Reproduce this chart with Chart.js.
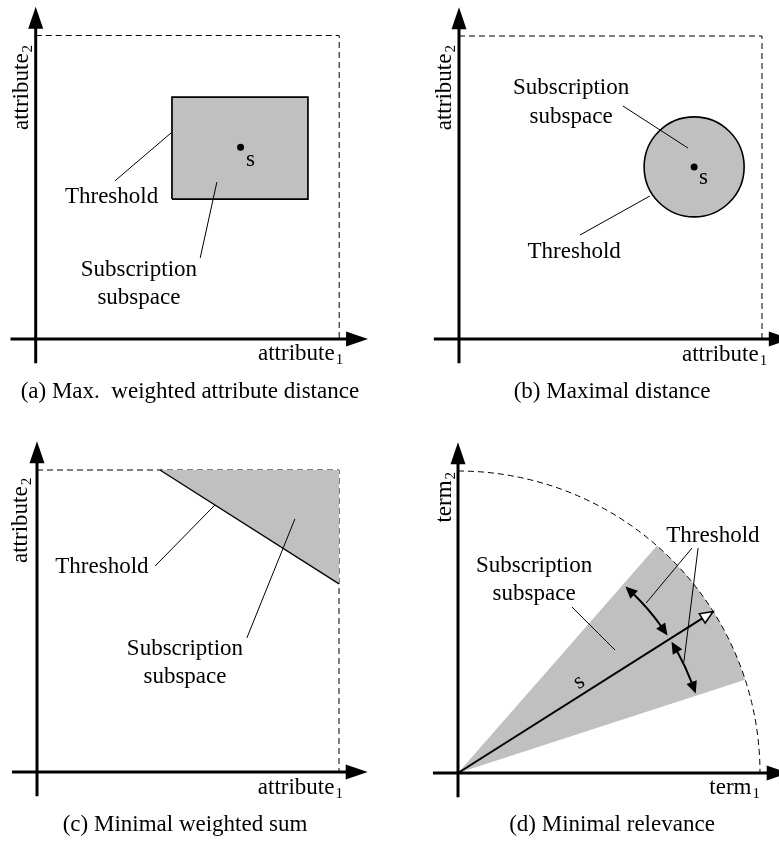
<!DOCTYPE html>
<html>
<head>
<meta charset="utf-8">
<title>Subscription subspaces</title>
<script src="https://cdn.jsdelivr.net/npm/chart.js@4.4.1/dist/chart.umd.min.js"></script>
<style>
  html, body { margin: 0; padding: 0; background: #fff; }
  #page { position: relative; width: 779px; height: 842px; overflow: hidden; }
  canvas { position: absolute; }
</style>
</head>
<body>
<div id="page">
  <canvas id="panelA" width="390" height="420"></canvas>
  <canvas id="panelB" width="389" height="420"></canvas>
  <canvas id="panelC" width="390" height="422"></canvas>
  <canvas id="panelD" width="389" height="422"></canvas>
</div>
<script>
// --- data (unit square / unit circle per panel) ---
const axisX = [[-0.083, 0], [1.095, 0]];
const axisY = [[0, -0.08], [0, 1.095]];
const bounds = [[0, 1], [1, 1], [1, 0]];

// (a) max. weighted attribute distance
const rectA = [[0.449, 0.461], [0.897, 0.461], [0.897, 0.797], [0.449, 0.797], [0.449, 0.461]];
const pointA = [0.675, 0.632];
const leadersA = [
  [[0.446, 0.679], [0.261, 0.521]],
  [[0.597, 0.517], [0.542, 0.267]],
];

// (b) maximal distance
const pointB = [0.776, 0.568];
const radiusB = 0.165;
const leadersB = [
  [[0.541, 0.769], [0.756, 0.630]],
  [[0.630, 0.472], [0.399, 0.343]],
];

// (c) minimal weighted sum
const regionC = [[0.407, 1], [1, 1], [1, 0.623], [0.407, 1]];
const thresholdC = [[0.407, 1], [1, 0.623]];
const leadersC = [
  [[0.589, 0.884], [0.391, 0.682]],
  [[0.854, 0.838], [0.695, 0.444]],
];

// (d) minimal relevance
const arcRadiusD = 1;
const wedgeDegD = [18, 48.8];
const vectorD = [0.845, 0.535];
const thresholdRadiusD = 0.83;
const thresholdArcsD = [[48.1, 33.3], [31.6, 18.5]];
const leadersD = [
  [[0.377, 0.550], [0.520, 0.407]],
  [[0.775, 0.745], [0.623, 0.563]],
  [[0.795, 0.745], [0.748, 0.368]],
];

// --- layout ---
const FONT = '"Liberation Serif", "Times New Roman", serif';
const GREY = "#c0c0c0";

const panels = {
  panelA: { left: 0, top: 0, w: 390, h: 420, ox: 35.7, oy: 339, unit: 303.5 },
  panelB: { left: 390, top: 0, w: 389, h: 420, ox: 459, oy: 339, unit: 303 },
  panelC: { left: 0, top: 420, w: 390, h: 422, ox: 37, oy: 772, unit: 302 },
  panelD: { left: 390, top: 420, w: 389, h: 422, ox: 458, oy: 773, unit: 302 },
};

function px(chart, p) {
  return [chart.scales.x.getPixelForValue(p[0]), chart.scales.y.getPixelForValue(p[1])];
}

function unitPx(chart) {
  const s = chart.scales.x;
  return s.getPixelForValue(1) - s.getPixelForValue(0);
}

function lineSet(points, opts) {
  return Object.assign({
    type: "scatter",
    showLine: true,
    data: points.map(([x, y]) => ({ x, y })),
    borderColor: "#000",
    borderWidth: 1,
    pointRadius: 0,
    fill: false,
    tension: 0,
  }, opts);
}

function pointSet(p, opts) {
  return Object.assign({
    type: "scatter",
    data: [{ x: p[0], y: p[1] }],
    pointRadius: 3.5,
    pointBackgroundColor: "#000",
    pointBorderWidth: 0,
  }, opts);
}

function arrowHead(ctx, tip, angle, len, half, open) {
  ctx.save();
  ctx.translate(tip[0], tip[1]);
  ctx.rotate(angle);
  ctx.beginPath();
  ctx.moveTo(0, 0);
  ctx.lineTo(-len, -half);
  ctx.lineTo(-len, half);
  ctx.closePath();
  if (open) {
    ctx.fillStyle = "#fff";
    ctx.fill();
    ctx.lineWidth = 1.5;
    ctx.strokeStyle = "#000";
    ctx.stroke();
  } else {
    ctx.fillStyle = "#000";
    ctx.fill();
  }
  ctx.restore();
}

// straight arrow, shaft stops at the head's base
function arrow(ctx, from, to, width, len, half, open) {
  const a = Math.atan2(to[1] - from[1], to[0] - from[0]);
  ctx.save();
  ctx.lineWidth = width;
  ctx.strokeStyle = "#000";
  ctx.beginPath();
  ctx.moveTo(from[0], from[1]);
  ctx.lineTo(to[0] - Math.cos(a) * (len - 1), to[1] - Math.sin(a) * (len - 1));
  ctx.stroke();
  ctx.restore();
  arrowHead(ctx, to, a, len, half, open);
}

function drawAxes(chart) {
  const ctx = chart.ctx;
  arrow(ctx, px(chart, axisX[0]), px(chart, axisX[1]), 3, 22, 7.5);
  arrow(ctx, px(chart, axisY[0]), px(chart, axisY[1]), 3, 22, 7.5);
}

function drawText(chart, items) {
  const ctx = chart.ctx;
  ctx.save();
  ctx.fillStyle = "#000";
  ctx.font = `23px ${FONT}`;
  items.forEach((it) => {
    const [x, y] = px(chart, it.at);
    ctx.save();
    ctx.translate(x, y);
    if (it.rotate) ctx.rotate(it.rotate);
    ctx.textAlign = it.align || "center";
    ctx.textBaseline = it.baseline || "alphabetic";
    ctx.fillText(it.t, 0, 0);
    ctx.restore();
  });
  ctx.restore();
}

// axis name with subscript, right-aligned at the anchor
function drawAxisName(chart, main, sub, at, vertical) {
  const ctx = chart.ctx;
  const [x, y] = px(chart, at);
  ctx.save();
  ctx.translate(x, y);
  if (vertical) ctx.rotate(-Math.PI / 2);
  ctx.fillStyle = "#000";
  ctx.textAlign = "left";
  ctx.textBaseline = "alphabetic";
  ctx.font = `23px ${FONT}`;
  const wm = ctx.measureText(main).width;
  ctx.font = `15px ${FONT}`;
  const ws = ctx.measureText(sub).width;
  const start = -(wm + ws + 1);
  ctx.font = `23px ${FONT}`;
  ctx.fillText(main, start, 0);
  ctx.font = `15px ${FONT}`;
  ctx.fillText(sub, start + wm + 1, 4);
  ctx.restore();
}

function makePanel(id, datasets, hooks) {
  const p = panels[id];
  const canvas = document.getElementById(id);
  canvas.style.left = p.left + "px";
  canvas.style.top = p.top + "px";
  const xmin = -(p.ox - p.left) / p.unit;
  const ymax = (p.oy - p.top) / p.unit;
  return new Chart(canvas.getContext("2d"), {
    type: "scatter",
    data: { datasets },
    options: {
      responsive: false,
      animation: false,
      events: [],
      layout: { padding: 0, autoPadding: false },
      scales: {
        x: { type: "linear", display: false, min: xmin, max: xmin + p.w / p.unit },
        y: { type: "linear", display: false, min: ymax - p.h / p.unit, max: ymax },
      },
      plugins: { legend: { display: false }, tooltip: { enabled: false } },
    },
    plugins: [{
      id: "diagram",
      beforeDatasetsDraw(chart) { if (hooks.before) hooks.before(chart); },
      afterDatasetsDraw(chart) {
        drawAxes(chart);
        if (hooks.after) hooks.after(chart);
      },
    }],
  });
}

// (a)
makePanel("panelA", [
  pointSet(pointA, { order: 1 }),
  ...leadersA.map((l) => lineSet(l, { order: 2 })),
  lineSet(rectA, { fill: "shape", backgroundColor: GREY, borderWidth: 1.7, order: 3 }),
  lineSet(bounds, { borderDash: [6, 4], order: 4 }),
], {
  after(chart) {
    drawText(chart, [
      { t: "Threshold", at: [0.250, 0.448] },
      { t: "Subscription", at: [0.340, 0.208] },
      { t: "subspace", at: [0.340, 0.115] },
      { t: "s", at: [0.693, 0.570], align: "left" },
      { t: "(a) Max.  weighted attribute distance", at: [0.508, -0.194] },
    ]);
    drawAxisName(chart, "attribute", "1", [1.013, -0.069]);
    drawAxisName(chart, "attribute", "2", [-0.024, 0.969], true);
  },
});

// (b)
makePanel("panelB", [
  pointSet(pointB, { order: 1 }),
  ...leadersB.map((l) => lineSet(l, { order: 2 })),
  pointSet(pointB, {
    order: 3,
    pointBackgroundColor: GREY,
    pointBorderColor: "#000",
    pointBorderWidth: 1.6,
    pointRadius: (ctx) => {
      const r = radiusB * unitPx(ctx.chart);
      return isFinite(r) ? r : 0;
    },
  }),
  lineSet(bounds, { borderDash: [6, 4], order: 4 }),
], {
  after(chart) {
    drawText(chart, [
      { t: "Subscription", at: [0.370, 0.809] },
      { t: "subspace", at: [0.370, 0.713] },
      { t: "Threshold", at: [0.380, 0.267] },
      { t: "s", at: [0.792, 0.512], align: "left" },
      { t: "(b) Maximal distance", at: [0.505, -0.195] },
    ]);
    drawAxisName(chart, "attribute", "1", [1.017, -0.073]);
    drawAxisName(chart, "attribute", "2", [-0.025, 0.970], true);
  },
});

// (c)
makePanel("panelC", [
  ...leadersC.map((l) => lineSet(l, { order: 1 })),
  lineSet(thresholdC, { borderWidth: 1.3, order: 2 }),
  lineSet(regionC, { fill: "shape", backgroundColor: GREY, borderWidth: 0, borderColor: "rgba(0,0,0,0)", order: 3 }),
  lineSet(bounds, { borderDash: [6, 4], order: 4 }),
], {
  after(chart) {
    drawText(chart, [
      { t: "Threshold", at: [0.215, 0.659] },
      { t: "Subscription", at: [0.490, 0.387] },
      { t: "subspace", at: [0.490, 0.295] },
      { t: "(c) Minimal weighted sum", at: [0.490, -0.195] },
    ]);
    drawAxisName(chart, "attribute", "1", [1.013, -0.073]);
    drawAxisName(chart, "attribute", "2", [-0.033, 0.974], true);
  },
});

// (d)
const deg = (d) => (d * Math.PI) / 180;
makePanel("panelD", leadersD.map((l) => lineSet(l, { order: 1 })), {
  before(chart) {
    const ctx = chart.ctx;
    const [cx, cy] = px(chart, [0, 0]);
    const u = unitPx(chart);
    ctx.save();
    ctx.fillStyle = GREY;
    ctx.beginPath();
    ctx.moveTo(cx, cy);
    ctx.arc(cx, cy, arcRadiusD * u, -deg(wedgeDegD[1]), -deg(wedgeDegD[0]));
    ctx.closePath();
    ctx.fill();
    ctx.strokeStyle = "#000";
    ctx.lineWidth = 1;
    ctx.setLineDash([6, 4]);
    ctx.beginPath();
    ctx.arc(cx, cy, arcRadiusD * u, -Math.PI / 2, 0);
    ctx.stroke();
    ctx.restore();
  },
  after(chart) {
    const ctx = chart.ctx;
    const o = px(chart, [0, 0]);
    const u = unitPx(chart);
    arrow(ctx, o, px(chart, vectorD), 2, 13, 5.5, true);

    const r = thresholdRadiusD * u;
    const len = 12;
    const dt = len / r;
    const onArc = (a) => [o[0] + r * Math.cos(a), o[1] - r * Math.sin(a)];
    thresholdArcsD.forEach(([hi, lo]) => {
      const a1 = deg(hi);
      const a2 = deg(lo);
      ctx.save();
      ctx.lineWidth = 2;
      ctx.strokeStyle = "#000";
      ctx.beginPath();
      ctx.arc(o[0], o[1], r, -(a1 - dt * 0.9), -(a2 + dt * 0.9));
      ctx.stroke();
      ctx.restore();
      [[a1, a1 - dt], [a2, a2 + dt]].forEach(([tipA, baseA]) => {
        const tip = onArc(tipA);
        const base = onArc(baseA);
        arrowHead(ctx, tip, Math.atan2(tip[1] - base[1], tip[0] - base[0]), len, 5.5);
      });
    });

    drawText(chart, [
      { t: "Threshold", at: [0.844, 0.765] },
      { t: "Subscription", at: [0.252, 0.666] },
      { t: "subspace", at: [0.252, 0.573] },
      { t: "s", at: [0.401, 0.301], baseline: "middle", rotate: -deg(32.3) },
      { t: "(d) Minimal relevance", at: [0.510, -0.192] },
    ]);
    drawAxisName(chart, "term", "1", [1.0, -0.070]);
    drawAxisName(chart, "term", "2", [-0.023, 0.997], true);
  },
});
</script>
</body>
</html>
